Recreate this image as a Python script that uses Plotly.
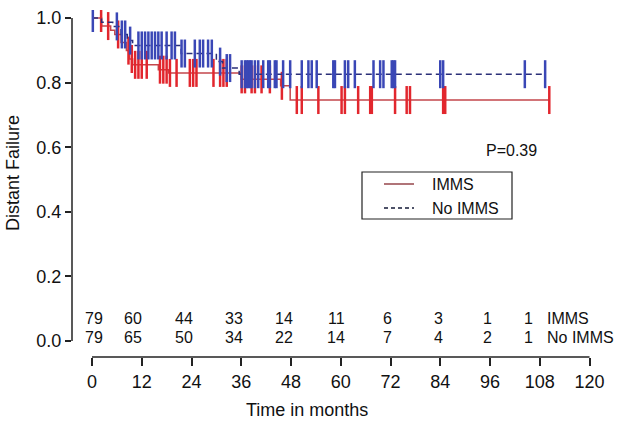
import numpy as np
import plotly.graph_objects as go

# ---------------- data ----------------
imms_event_t = [2.3, 4.5, 5.5, 7.0, 8.3, 9.0, 9.8, 16.0, 18.5, 36.0, 45.5, 47.8]
imms_surv = [0.975, 0.962, 0.949, 0.924, 0.899, 0.873, 0.855, 0.84, 0.83, 0.81, 0.79, 0.746]
imms_censor = [2.2, 3.9, 6.3, 8.8, 9.6, 10.4, 11.2, 12.0, 13.2, 16.4, 17.2, 18.0, 18.8,
               20.4, 23.6, 24.4, 25.2, 29.3, 30.9, 31.7, 32.5, 36.1, 36.9, 38.5, 39.3,
               40.9, 42.9, 45.8, 49.4, 50.6, 54.6, 60.2, 61.0, 64.2, 67.1, 67.5, 73.1,
               75.9, 76.7, 84.7, 85.2, 110.3]

noimms_event_t = [2.3, 5.0, 7.0, 8.5, 9.8, 21.5, 30.0, 31.5, 35.5]
noimms_surv = [0.987, 0.974, 0.949, 0.93, 0.915, 0.89, 0.865, 0.845, 0.826]
noimms_censor = [0.2, 6.0, 7.2, 8.0, 9.2, 11.2, 12.0, 12.8, 13.6, 14.4, 15.2, 16.0, 16.8,
                 18.0, 19.2, 20.0, 21.6, 22.4, 24.8, 26.0, 26.8, 28.0, 28.9, 30.9, 32.5,
                 33.3, 36.1, 36.9, 37.3, 37.7, 38.1, 38.5, 39.3, 40.1, 41.3, 42.5, 42.9,
                 44.1, 44.5, 46.1, 47.8, 50.6, 52.2, 53.0, 54.2, 58.2, 58.6, 61.0, 61.8,
                 63.4, 67.9, 69.5, 70.3, 72.3, 72.7, 73.1, 84.0, 84.7, 104.4, 109.3]

risk_times = [0, 12, 24, 36, 48, 60, 72, 84, 96, 108]
risk_imms = [79, 60, 44, 33, 14, 11, 6, 3, 1, 1]
risk_noimms = [79, 65, 50, 34, 22, 14, 7, 4, 2, 1]
group_names = ["IMMS", "No IMMS"]
p_text = "P=0.39"

x_ticks = [0, 12, 24, 36, 48, 60, 72, 84, 96, 108, 120]
y_ticks = [0.0, 0.2, 0.4, 0.6, 0.8, 1.0]

# ---------------- styling ----------------
FONT = "Liberation Sans, Arial, Helvetica, sans-serif"
RED_LINE = "#c4474c"
RED_TICK = "#e2262d"
BLUE_LINE = "#2b2f78"
BLUE_TICK = "#3a47b6"
LEG_RED = "#b07478"
LEG_BLUE = "#4e5268"
# pixel nudges of the risk-table numbers (right edge relative to their time tick)
RISK_NUDGE = [13, 2, 3, 4, 4, 6, 3, 5, 4, -5]


def step_curve(ev_t, surv, censor):
    end = max(censor)
    xs = [0.0] + list(ev_t) + [end]
    ys = [1.0] + list(surv) + [surv[-1]]
    ev = np.array(ev_t)
    sv = np.array([1.0] + list(surv))
    idx = np.searchsorted(ev, np.array(censor), side="right")
    cy = sv[idx]
    return xs, ys, cy


fig = go.Figure()

for ev_t, surv, cens, lc, tc, dash in [
    (imms_event_t, imms_surv, imms_censor, RED_LINE, RED_TICK, "solid"),
    (noimms_event_t, noimms_surv, noimms_censor, BLUE_LINE, BLUE_TICK, "6px,4px"),
]:
    xs, ys, cy = step_curve(ev_t, surv, cens)
    fig.add_trace(go.Scatter(x=xs, y=ys, mode="lines", line=dict(color=lc, width=1.5, dash=dash, shape="hv"),
                             showlegend=False, hoverinfo="skip"))
    fig.add_trace(go.Scatter(x=cens, y=cy, mode="markers",
                             marker=dict(symbol="line-ns", size=20, line=dict(color=tc, width=2.5)),
                             showlegend=False, hoverinfo="skip"))

# ---------------- layout geometry (pixels) ----------------
W, H = 618, 421
PL, PR, PT, PB = 72, 610, 10, 357      # plot area in pixels
ML, MR, MT, MB = PL, W - PR, PT, H - PB
PW, PH = PR - PL, PB - PT
X0PX, X120PX = 92.0, 589.5      # pixel positions of 0 and 120 months
Y0PX, Y1PX = 341.0, 18.0        # pixel positions of 0.0 and 1.0
ppm = (X120PX - X0PX) / 120.0
xr = [(PL - X0PX) / ppm, (PR - X0PX) / ppm]
ppu = Y0PX - Y1PX
yr = [-(PB - Y0PX) / ppu, 1 + (Y1PX - PT) / ppu]


def px(xpix):
    return (xpix - PL) / PW


def py(ypix):
    return 1 - (ypix - PT) / PH


annotations = []
row_y = [py(318), py(337.5)]
for row, vals in zip(row_y, [risk_imms, risk_noimms]):
    for t, v, nudge in zip(risk_times, vals, RISK_NUDGE):
        annotations.append(dict(x=t, y=row, xref="x", yref="paper", text=str(v), showarrow=False,
                                xanchor="right", yanchor="middle", xshift=nudge,
                                font=dict(size=16, color="#111", family=FONT)))
for row, name in zip(row_y, group_names):
    annotations.append(dict(x=px(545), y=row, xref="paper", yref="paper", text=name, showarrow=False,
                            xanchor="left", yanchor="middle", font=dict(size=16, color="#111", family=FONT)))
annotations.append(dict(x=px(511), y=py(150), xref="paper", yref="paper", text=p_text,
                        showarrow=False, xanchor="center", yanchor="middle",
                        font=dict(size=16, color="#111", family=FONT)))
annotations.append(dict(x=px(306.5), y=py(410), xref="paper", yref="paper",
                        text="Time in months", showarrow=False, xanchor="center", yanchor="middle",
                        font=dict(size=18, color="#111", family=FONT)))
annotations.append(dict(x=px(13), y=py(173), xref="paper", yref="paper",
                        text="Distant Failure", showarrow=False, textangle=-90, xanchor="center",
                        yanchor="middle", font=dict(size=18, color="#111", family=FONT)))

# hand-drawn legend box
leg_rows = [py(184), py(208)]
for row, name in zip(leg_rows, group_names):
    annotations.append(dict(x=px(430), y=row, xref="paper", yref="paper", text=name, showarrow=False,
                            xanchor="left", yanchor="middle", font=dict(size=16, color="#111", family=FONT)))

shapes = [
    dict(type="line", xref="paper", yref="y", x0=0, x1=0, y0=0, y1=1,
         line=dict(color="#222", width=1.5)),
    dict(type="line", xref="x", yref="paper", x0=0, x1=120, y0=0, y1=0,
         line=dict(color="#222", width=1.5)),
    dict(type="rect", xref="paper", yref="paper", x0=px(362), x1=px(512), y0=py(219), y1=py(172),
         line=dict(color="#222", width=1.2), fillcolor="white", layer="above"),
    dict(type="line", xref="paper", yref="paper", x0=px(384), x1=px(414), y0=leg_rows[0], y1=leg_rows[0],
         line=dict(color=LEG_RED, width=2)),
    dict(type="line", xref="paper", yref="paper", x0=px(384), x1=px(414), y0=leg_rows[1], y1=leg_rows[1],
         line=dict(color=LEG_BLUE, width=2, dash="4px,3px")),
]

fig.update_layout(
    width=W, height=H,
    margin=dict(l=ML, r=MR, t=MT, b=MB),
    paper_bgcolor="white", plot_bgcolor="white",
    showlegend=False,
    font=dict(family=FONT, color="#111", size=18),
    xaxis=dict(range=xr, tickvals=x_ticks, ticks="outside", ticklen=8, tickwidth=1.5, tickcolor="#222",
               showgrid=False, zeroline=False, showline=False, tickfont=dict(size=18)),
    yaxis=dict(range=yr, tickvals=y_ticks, ticktext=[f"{v:.1f}" for v in y_ticks], ticks="outside",
               ticklen=6, tickwidth=1.5, tickcolor="#222", showgrid=False, zeroline=False,
               showline=False, tickfont=dict(size=18)),
    annotations=annotations, shapes=shapes,
)

fig.write_html("out.html", config={"displayModeBar": False},
               post_script="document.body.style.margin='0';")
